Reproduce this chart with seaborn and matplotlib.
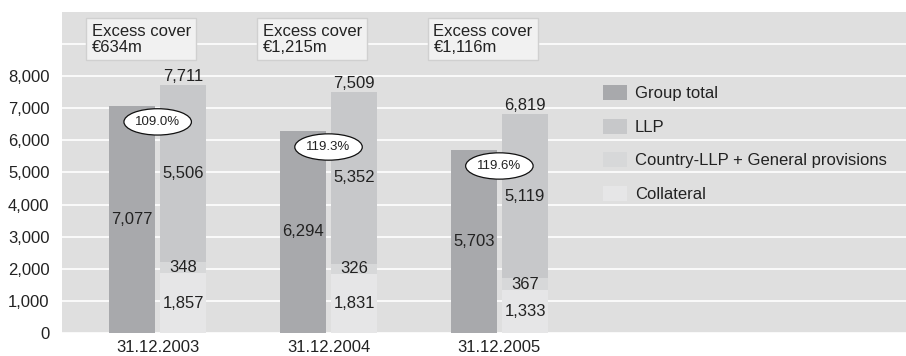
import pandas as pd
import seaborn as sns
import matplotlib.pyplot as plt
from matplotlib.patches import Ellipse, Patch

# data (EUR m)
dates = ["31.12.2003", "31.12.2004", "31.12.2005"]
group_total = [7077, 6294, 5703]
llp = [5506, 5352, 5119]
country_general = [348, 326, 367]
collateral = [1857, 1831, 1333]
excess_cover = ["€634m", "€1,215m", "€1,116m"]
cover_ratio = ["109.0%", "119.3%", "119.6%"]

bar_kinds = ["Group total", "Cover"]
legend_labels = ["Group total", "LLP", "Country-LLP + General provisions", "Collateral"]
colors = ["#a8a9ac", "#c7c8ca", "#d7d8d9", "#e6e6e7"]

cover_total = [a + b + c for a, b, c in zip(collateral, country_general, llp)]
country_top = [a + b for a, b in zip(collateral, country_general)]

sns.set_theme(style="whitegrid")
plt.rcParams["font.family"] = ["Liberation Sans", "DejaVu Sans"]
fs = 12
txt = "#222222"

fig = plt.figure(figsize=(9.06, 3.56), dpi=100)
ax = fig.add_axes([62 / 906, 23 / 356, 844 / 906, 321 / 356])

layer1 = pd.DataFrame({
    "date": dates * 2,
    "kind": ["Group total"] * 3 + ["Cover"] * 3,
    "value": group_total + cover_total,
})
layer2 = pd.DataFrame({"date": dates, "kind": ["Cover"] * 3, "value": country_top})
layer3 = pd.DataFrame({"date": dates, "kind": ["Cover"] * 3, "value": collateral})

common = dict(x="date", y="value", hue="kind", hue_order=bar_kinds, order=dates,
              dodge=True, width=0.6, gap=0.1, saturation=1, legend=False,
              linewidth=0, errorbar=None, ax=ax)
sns.barplot(data=layer1, palette={"Group total": colors[0], "Cover": colors[1]}, **common)
sns.barplot(data=layer2, palette={"Group total": colors[0], "Cover": colors[2]}, **common)
sns.barplot(data=layer3, palette={"Group total": colors[0], "Cover": colors[3]}, **common)

group_bars = ax.containers[0]
cover_bars = ax.containers[1]

for i in range(len(dates)):
    gx = group_bars[i].get_x() + group_bars[i].get_width() / 2
    cx = cover_bars[i].get_x() + cover_bars[i].get_width() / 2
    ax.text(gx, group_total[i] / 2, f"{group_total[i]:,}", ha="center", va="center", fontsize=fs, color=txt)
    ax.text(cx, country_top[i] + llp[i] / 2, f"{llp[i]:,}", ha="center", va="center", fontsize=fs, color=txt)
    ax.text(cx, collateral[i] + country_general[i] / 2, f"{country_general[i]:,}", ha="center", va="center", fontsize=fs, color=txt)
    ax.text(cx, collateral[i] / 2, f"{collateral[i]:,}", ha="center", va="center", fontsize=fs, color=txt)
    ax.annotate(f"{cover_total[i]:,}", (cx, cover_total[i]), xytext=(0, 1), textcoords="offset points",
                ha="center", va="bottom", fontsize=fs, color=txt)
    # coverage ratio bubble
    ax.add_patch(Ellipse((i, group_total[i] - 500), 0.395, 820, facecolor="white",
                         edgecolor="#111111", linewidth=0.9, zorder=5))
    ax.text(i, group_total[i] - 500, cover_ratio[i], ha="center", va="center", fontsize=9.5, color=txt, zorder=6)
    # excess cover box
    ax.text(i - 0.386, 9150, "Excess cover\n" + excess_cover[i], ha="left", va="center", fontsize=fs,
            color=txt, linespacing=1.05, zorder=6,
            bbox=dict(boxstyle="square,pad=0.33", facecolor="#f1f1f1", edgecolor="#d0d0d0", linewidth=1))

ax.set_xlim(-0.56, 4.38)
ax.set_ylim(0, 10000)
ticks = list(range(0, 10000, 1000))
ax.set_yticks(ticks)
ax.set_yticklabels([f"{t:,}" if t <= 8000 else "" for t in ticks])
ax.set_xlabel("")
ax.set_ylabel("")
ax.set_facecolor("#dfdfdf")
ax.grid(axis="y", color="white", linewidth=1.2)
ax.grid(axis="x", visible=False)
ax.set_axisbelow(True)
for s in ax.spines.values():
    s.set_visible(False)
ax.tick_params(axis="y", length=0, pad=9, labelsize=fs, labelcolor=txt)
ax.tick_params(axis="x", length=0, pad=5, labelsize=fs, labelcolor=txt)

handles = [Patch(facecolor=c, edgecolor="none") for c in colors]
fig.legend(handles, legend_labels, loc="upper left", bbox_to_anchor=(603 / 906, 1 - 85 / 356),
           frameon=False, borderpad=0, borderaxespad=0, handlelength=1.45, handleheight=1.0,
           handletextpad=0.45, labelspacing=1.05, fontsize=fs, labelcolor=txt)

fig.savefig("out.png", dpi=100)
